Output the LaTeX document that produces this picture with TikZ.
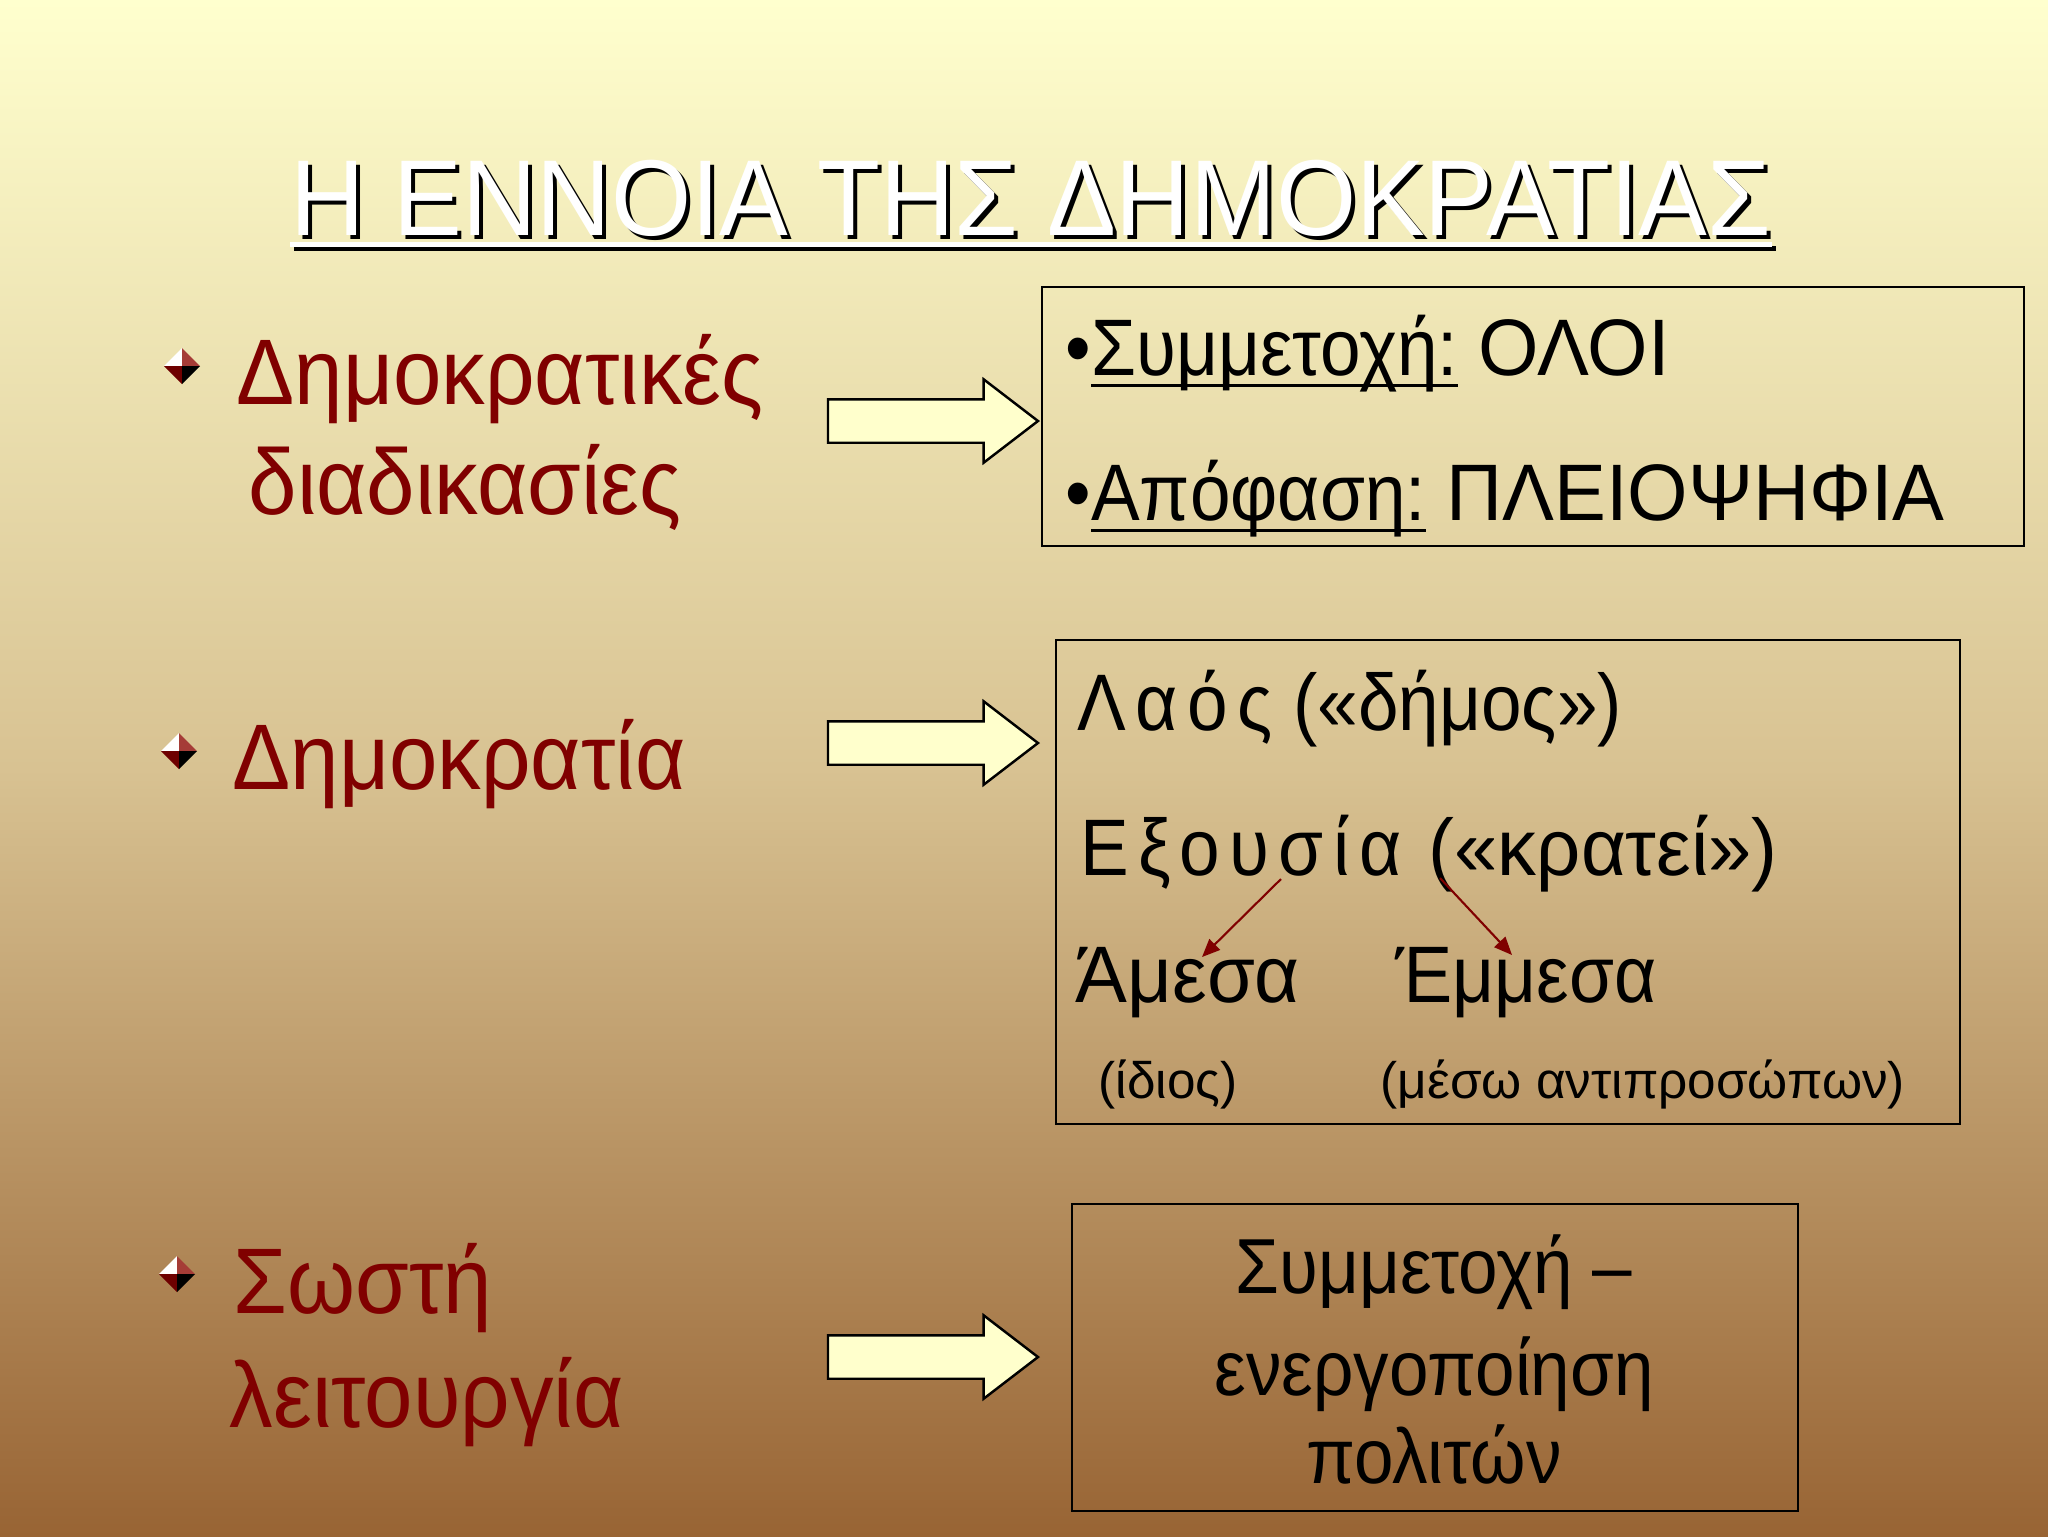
\documentclass[tikz,border=0pt]{standalone}
\usepackage{fontspec}
\setmainfont{Liberation Sans}
\newfontfamily\narrowfont{Liberation Sans}[FakeStretch=0.91]
\newfontfamily\topicfont{Liberation Sans}[FakeStretch=0.935]
\newfontfamily\headfont{Liberation Sans}[FakeStretch=0.955]
\newfontfamily\capsfont{Liberation Sans}[FakeStretch=0.97]
\newfontfamily\spacedfont{Liberation Sans}[FakeStretch=0.91,LetterSpace=12]
\newcommand{\ulbox}[1]{\setbox0\hbox{#1}\rlap{\rule[-3.3pt]{\wd0}{0.85pt}}\box0\relax}
\usetikzlibrary{shapes.arrows,arrows.meta}
\definecolor{darkred}{RGB}{128,0,0}
\definecolor{cream}{RGB}{255,255,204}
\definecolor{bgtop}{RGB}{255,255,206}
\definecolor{bgmid}{RGB}{216,194,146}
\definecolor{bgbot}{RGB}{152,100,52}
\definecolor{dmdred}{RGB}{165,60,55}
\definecolor{dmddark}{RGB}{110,0,0}
\tikzstyle{titletext}=[inner sep=0pt, anchor=base west, font=\headfont\fontsize{30.7}{36}\selectfont]
\tikzstyle{topictext}=[inner sep=0pt, anchor=base west, text=darkred, font=\topicfont\fontsize{26.5}{32}\selectfont]
\tikzstyle{boxtext}=[inner sep=0pt, anchor=base west, font=\narrowfont\fontsize{22.8}{27}\selectfont]
\tikzstyle{smalltext}=[inner sep=0pt, anchor=base west, font=\fontsize{14.6}{17}\selectfont]
\tikzstyle{centertext}=[inner sep=0pt, anchor=base, font=\narrowfont\fontsize{22.2}{27}\selectfont]
\tikzstyle{boxframe}=[draw, line width=0.6pt, inner sep=0pt, anchor=north west]
\tikzstyle{blockarrow}=[single arrow, draw, fill=cream, line width=0.7pt, inner xsep=0pt, inner ysep=2.05mm,
    single arrow head extend=2mm, single arrow tip angle=75, minimum height=21mm, anchor=tip]
\tikzstyle{splitarrow}=[draw, line width=0.6pt, darkred, -{Triangle[length=1.8mm, width=1.5mm]}]

\begin{document}
\begin{tikzpicture}[x=0.1mm, y=-0.1mm]
    \useasboundingbox (0,0) rectangle (2048,1536);
    \shade[top color=bgtop, bottom color=bgbot, middle color=bgmid] (0,0) rectangle (2048,1536);

    % title, white over a black shadow
    \node[titletext, text=black] (titleshadow) at (294,239) {Η ΕΝΝΟΙΑ ΤΗΣ ΔΗΜΟΚΡΑΤΙΑΣ};
    \draw[black, line width=1.5pt] ([yshift=-2.6pt]titleshadow.base west) -- ([yshift=-2.6pt]titleshadow.base east);
    \node[titletext, text=white] (title) at (290,235) {Η ΕΝΝΟΙΑ ΤΗΣ ΔΗΜΟΚΡΑΤΙΑΣ};
    \draw[white, line width=1.5pt] ([yshift=-2.6pt]title.base west) -- ([yshift=-2.6pt]title.base east);

    % bullet diamonds
    \foreach \cx/\cy in {182/366, 179/751, 177/1274} {
        \fill[white]   (\cx,\cy) -- ++(-18,0) -- ++(18,-18) -- cycle;
        \fill[dmdred]  (\cx,\cy) -- ++(0,-18) -- ++(18,18) -- cycle;
        \fill[dmddark] (\cx,\cy) -- ++(-18,0) -- ++(18,18) -- cycle;
        \fill[black]   (\cx,\cy) -- ++(0,18) -- ++(18,-18) -- cycle;
    }
    \foreach \pos/\name/\txt in {{(236,404)/topicA1/Δημοκρατικές}, {(248,514)/topicA2/διαδικασίες},
                                 {(232,789)/topicB/Δημοκρατία},
                                 {(233,1313)/topicC1/Σωστή}, {(229,1427)/topicC2/λειτουργία}}
        \node[topictext] (\name) at \pos {\txt};

    \foreach \pos/\name in {{(1040,421)/arrA}, {(1040,743)/arrB}, {(1040,1357)/arrC}}
        \node[blockarrow] (\name) at \pos {};

    \node[boxframe, minimum width=98.2mm, minimum height=25.9mm] (boxA) at (1041,286) {};
    \node[boxframe, minimum width=90.4mm, minimum height=48.4mm] (boxB) at (1055,639) {};
    \node[boxframe, minimum width=72.6mm, minimum height=30.7mm] (boxC) at (1071,1203) {};

    \node[boxtext] (partA) at (1065,375) {•\ulbox{Συμμετοχή:} {\capsfont ΟΛΟΙ}};
    \node[boxtext] (decideA) at (1065,520) {•\ulbox{Απόφαση:} {\capsfont ΠΛΕΙΟΨΗΦΙΑ}};

    \node[boxtext] (laos) at (1077,730) {{\spacedfont Λαός} («δήμος»)};
    \node[boxtext] (exousia) at (1080,875) {{\spacedfont Εξουσία}\hspace{2pt} {\capsfont («κρατεί»)}};
    \node[boxtext] (amesa) at (1075,1002) {{\capsfont Άμεσα}};
    \node[boxtext] (emmesa) at (1395,1002) {Έμμεσα};
    \node[smalltext] (idios) at (1098,1098) {(ίδιος)};
    \node[smalltext] (meso) at (1380,1098) {(μέσω αντιπροσώπων)};

    \coordinate (forkA) at ([shift={(201,4)}]exousia.base west);
    \coordinate (forkB) at ([shift={(360,3)}]exousia.base west);
    \coordinate (amesatop) at ([shift={(127,-45)}]amesa.base west);
    \coordinate (emmesatop) at ([shift={(117,-47)}]emmesa.base west);
    \draw[splitarrow] (forkA) -- (amesatop);
    \draw[splitarrow] (forkB) -- (emmesatop);

    \foreach \y/\name/\txt in {1293/civA/Συμμετοχή –, 1395/civB/ενεργοποίηση, 1483/civC/πολιτών}
        \node[centertext] (\name) at (1434,\y) {\txt};
\end{tikzpicture}
\end{document}
